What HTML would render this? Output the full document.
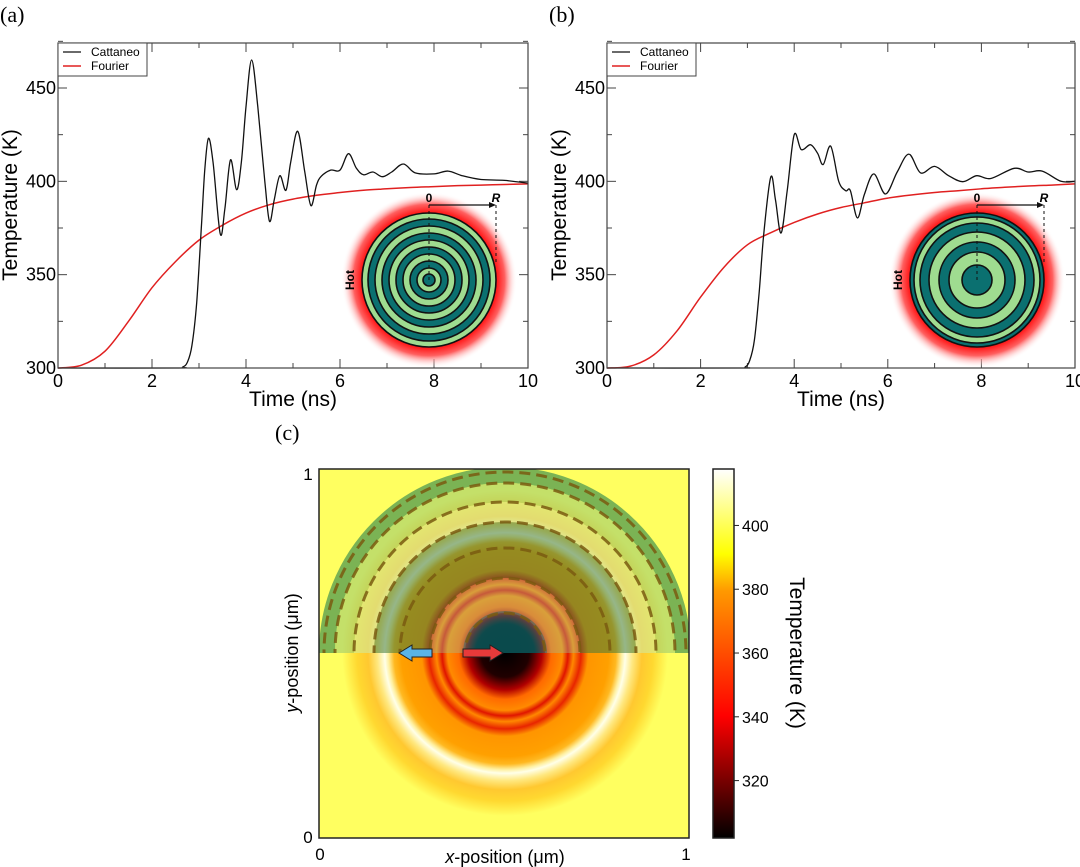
<!DOCTYPE html>
<html><head><meta charset="utf-8"><style>
body{margin:0;background:#fff}
svg{display:block;font-family:"Liberation Sans",Arial,sans-serif}
</style></head><body>
<svg id="fig" width="1080" height="867" viewBox="0 0 1080 867" xmlns="http://www.w3.org/2000/svg">
<defs>
<radialGradient id="glow" cx="0.5" cy="0.5" r="0.5">
<stop offset="0.74" stop-color="#ff0000"/><stop offset="0.86" stop-color="#ff6060"/><stop offset="1" stop-color="#ffffff" stop-opacity="0"/>
</radialGradient>
<radialGradient id="heat" gradientUnits="userSpaceOnUse" cx="505" cy="653" r="185">
<stop offset="0" stop-color="#000"/><stop offset="0.13" stop-color="#200000"/><stop offset="0.2" stop-color="#b00000"/>
<stop offset="0.25" stop-color="#ff6a00"/><stop offset="0.31" stop-color="#ff8a00"/><stop offset="0.34" stop-color="#e01500"/>
<stop offset="0.37" stop-color="#ff8800"/><stop offset="0.41" stop-color="#e82500"/><stop offset="0.45" stop-color="#ff9500"/>
<stop offset="0.56" stop-color="#ffa000"/><stop offset="0.6" stop-color="#ffb820"/>
<stop offset="0.63" stop-color="#fff0a0"/><stop offset="0.65" stop-color="#ffffe8"/><stop offset="0.69" stop-color="#ffe880"/>
<stop offset="0.74" stop-color="#ffc830"/><stop offset="0.8" stop-color="#ffd830"/><stop offset="0.88" stop-color="#ffff60"/><stop offset="1" stop-color="#ffff60"/>
</radialGradient>
<radialGradient id="core" gradientUnits="userSpaceOnUse" cx="505" cy="653" r="42">
<stop offset="0.7" stop-color="#0a4e50" stop-opacity="0.95"/><stop offset="1" stop-color="#3a6a6a" stop-opacity="0.5"/>
</radialGradient>
<linearGradient id="cbar" x1="0" y1="1" x2="0" y2="0">
<stop offset="0" stop-color="#000"/><stop offset="0.33" stop-color="#ff0000"/><stop offset="0.67" stop-color="#ff9900"/><stop offset="0.77" stop-color="#ffff00"/><stop offset="1" stop-color="#ffffff"/>
</linearGradient>
<clipPath id="topHalf"><rect x="319" y="469" width="370" height="184"/></clipPath>
<clipPath id="plotC"><rect x="319" y="469" width="370" height="369"/></clipPath>
</defs>
<g id="panelA"></g>
<g id="panelB"></g>
<g id="panelC">
  <text x="275" y="440" font-family="Liberation Serif" font-size="22">(c)</text>
  <rect x="319" y="469" width="370" height="369" fill="#ffff60"/>
  <g clip-path="url(#plotC)">
    <circle cx="505" cy="653" r="185" fill="url(#heat)"/>
    <g clip-path="url(#topHalf)" fill="none">
      <circle cx="505" cy="653" r="178" stroke="#4f9a50" stroke-opacity="0.75" stroke-width="16"/>
      <circle cx="505" cy="653" r="160.5" stroke="#9ccc70" stroke-opacity="0.6" stroke-width="19"/>
      <circle cx="505" cy="653" r="141" stroke="#c8f0b0" stroke-opacity="0.5" stroke-width="20"/>
      <circle cx="505" cy="653" r="103" stroke="#3f7a3a" stroke-opacity="0.55" stroke-width="56"/>
      <circle cx="505" cy="653" r="57.5" stroke="#a0c090" stroke-opacity="0.4" stroke-width="35"/>
      <circle cx="505" cy="653" r="42" fill="url(#core)"/>
      <g fill="none" stroke="#7a5a10" stroke-width="3" stroke-dasharray="11 6" stroke-opacity="0.85">
        <circle cx="505" cy="653" r="181"/><circle cx="505" cy="653" r="170"/><circle cx="505" cy="653" r="151"/>
        <circle cx="505" cy="653" r="131"/><circle cx="505" cy="653" r="105"/><circle cx="505" cy="653" r="75"/><circle cx="505" cy="653" r="40"/>
      </g>
    </g>
  </g>
  <path d="M399,653 L412,645 L412,649 L432,649 L432,657 L412,657 L412,661 Z" fill="#5ab4e8" stroke="#222" stroke-width="1"/>
  <path d="M503,653 L490,645 L490,649 L463,649 L463,657 L490,657 L490,661 Z" fill="#e83a3a" stroke="#222" stroke-width="1"/>
  <rect x="319" y="469" width="370" height="369" fill="none" stroke="#222" stroke-width="1.5"/>
  <text x="308" y="480" font-size="17" text-anchor="middle">1</text>
  <text x="308" y="843" font-size="17" text-anchor="middle">0</text>
  <text x="320" y="860" font-size="17" text-anchor="middle">0</text>
  <text x="686" y="860" font-size="17" text-anchor="middle">1</text>
  <text x="505" y="863" font-size="18" text-anchor="middle"><tspan font-style="italic">x</tspan>-position (μm)</text>
  <text transform="translate(298,653) rotate(-90)" font-size="18" text-anchor="middle"><tspan font-style="italic">y</tspan>-position (μm)</text>
  <rect x="713" y="469" width="21" height="369" fill="url(#cbar)" stroke="#222" stroke-width="1.5"/>
  <g id="cbTicks"></g>
  <text transform="translate(790,653) rotate(90)" font-size="21" text-anchor="middle">Temperature (K)</text>
</g>
</svg>
<script>
const NS="http://www.w3.org/2000/svg";
const timesA=[0,0.5,1,1.5,2,2.5,3,3.5,4,4.5,5,5.5,6,6.5,7,7.5,8,8.5,9,9.5,10];
const fourierA=[300,301.5,309,325,343,357,368.5,376.5,383,387.5,390.5,392.5,394,395.2,396,396.7,397.2,397.7,398,398.3,398.6];
const fourierB=[300,301,307,320,338,354,366,372.5,378,382.5,386,388.5,391,392.7,394,395,396,396.8,397.5,398,398.6];
const cattTimeA=[0,2.5,2.65,2.75,2.85,2.95,3.05,3.12,3.2,3.3,3.45,3.55,3.67,3.8,3.9,4.0,4.12,4.25,4.4,4.5,4.6,4.72,4.85,4.95,5.1,5.25,5.38,5.5,5.6,5.8,6.0,6.18,6.35,6.5,6.7,6.9,7.1,7.35,7.6,8.0,8.3,8.6,9.0,9.5,10];
const cattTempA=[300,300,300.5,303,312,335,375,405,423,410,372,385,411.5,395.5,410,440,465,440,400,378.6,390,403,395.2,410,426.8,405,387,398,402.7,406,406,414.8,407,403.5,405,402.5,405,409.3,404.5,404,405.5,403,401,400.5,399];
const cattTimeB=[0,2.8,2.95,3.05,3.15,3.25,3.35,3.5,3.6,3.72,3.85,4.0,4.15,4.35,4.5,4.62,4.78,4.95,5.1,5.2,5.35,5.5,5.7,5.95,6.2,6.45,6.7,7.0,7.3,7.6,7.9,8.2,8.7,9.0,9.3,9.7,10];
const cattTempB=[300,300,300.5,304,315,340,372,402.3,390,372.3,395,425,417,419.6,415,409,418.8,400,395,395,380.4,393,404,393.2,405,414.6,404.5,408,403,399.8,403,401.5,407,405,405.5,400,400];
const xTicks=[0,2,4,6,8,10];
const yTicks=[300,350,400,450];
const cbTicks=[320,340,360,380,400];

function el(tag,attrs,parent){const e=document.createElementNS(NS,tag);for(const k in attrs)e.setAttribute(k,attrs[k]);parent.appendChild(e);return e;}
function smooth(pts){let d="M"+pts[0][0]+","+pts[0][1];for(let i=0;i<pts.length-1;i++){const p0=pts[Math.max(0,i-1)],p1=pts[i],p2=pts[i+1],p3=pts[Math.min(pts.length-1,i+2)];
const c1=[p1[0]+(p2[0]-p0[0])/6,p1[1]+(p2[1]-p0[1])/6],c2=[p2[0]-(p3[0]-p1[0])/6,p2[1]-(p3[1]-p1[1])/6];
d+=` C${c1[0].toFixed(1)},${c1[1].toFixed(1)} ${c2[0].toFixed(1)},${c2[1].toFixed(1)} ${p2[0].toFixed(1)},${p2[1].toFixed(1)}`;}return d;}

function panel(g,x0,x1,label,ct,cv,fv,ins,rings){
  const y0=368,yTop=43;
  const X=t=>x0+(x1-x0)*t/10, Y=v=>y0-(v-300)*(y0-88)/150;
  const lab=el("text",{x:x0-58,y:22,"font-family":"Liberation Serif","font-size":22},g);lab.textContent=label;
  
  
  const ax=el("g",{stroke:"#444","stroke-width":1},g);
  for(let t=0;t<=10;t++){const len=t%2?5:9;el("line",{x1:X(t),y1:y0,x2:X(t),y2:y0-len},ax);el("line",{x1:X(t),y1:yTop,x2:X(t),y2:yTop+len},ax);}
  for(let v=300;v<=475;v+=25){const len=v%50?5:9;el("line",{x1:x0,y1:Y(v),x2:x0+len,y2:Y(v)},ax);el("line",{x1:x1,y1:Y(v),x2:x1-len,y2:Y(v)},ax);}
  xTicks.forEach(t=>{const e=el("text",{x:X(t),y:387,"font-size":18,"text-anchor":"middle"},g);e.textContent=t;
    
    });
  yTicks.forEach(v=>{const e=el("text",{x:x0-2,y:Y(v)+6,"font-size":18,"text-anchor":"end"},g);e.textContent=v;
    
    });
  const xt=el("text",{x:(x0+x1)/2,y:406,"font-size":21,"text-anchor":"middle"},g);xt.textContent="Time (ns)";
  
  
  const yt=el("text",{transform:`translate(${x0-41},205) rotate(-90)`,"font-size":21,"text-anchor":"middle"},g);yt.textContent="Temperature (K)";
  
  
  const cx=ins,cy=280,R=67;
  const inset=el("g",{},g);
  
  
  el("circle",{cx,cy,r:88,fill:"url(#glow)"},inset);
  for(let i=rings.length-1;i>=0;i--){el("circle",{cx,cy,r:rings[i],fill:i%2?"#9fdc90":"#0b7070",stroke:"#111","stroke-width":1.6},inset);}
  el("line",{x1:cx,y1:205,x2:cx,y2:cy,stroke:"#111","stroke-width":1,"stroke-dasharray":"3 3"},inset);
  el("line",{x1:cx+R,y1:205,x2:cx+R,y2:cy-18,stroke:"#111","stroke-width":1,"stroke-dasharray":"3 3"},inset);
  el("line",{x1:cx,y1:205,x2:cx+R-4,y2:205,stroke:"#111","stroke-width":1.2},inset);
  el("path",{d:`M${cx+R},205 l-7,-3 v6 z`,fill:"#111"},inset);
  const t0=el("text",{x:cx,y:202,"font-size":12,"font-weight":"bold","text-anchor":"middle"},inset);t0.textContent="0";
  const tR=el("text",{x:cx+R,y:202,"font-size":12,"font-weight":"bold","font-style":"italic","text-anchor":"middle"},inset);tR.textContent="R";
  const th=el("text",{transform:`translate(${cx-75},${cy}) rotate(-90)`,"font-size":12,"font-weight":"bold","text-anchor":"middle"},inset);th.textContent="Hot";
  const fp=el("path",{d:smooth(timesA.map((t,i)=>[X(t),Y(fv[i])])),fill:"none",stroke:"#e02020","stroke-width":1.5},g);
  
  
  const cp=el("path",{d:smooth(ct.map((t,i)=>[X(t),Y(cv[i])])),fill:"none",stroke:"#111","stroke-width":1.3},g);
  
  
  el("rect",{x:x0,y:yTop,width:x1-x0,height:y0-yTop,fill:"none",stroke:"#444","stroke-width":1.2},g);
  const lg=el("g",{},g);
  
  
  el("rect",{x:x0,y:yTop,width:89,height:33,fill:"#fff",stroke:"#444","stroke-width":1},lg);
  el("line",{x1:x0+5,y1:yTop+9,x2:x0+23,y2:yTop+9,stroke:"#111","stroke-width":1.3},lg);
  el("line",{x1:x0+5,y1:yTop+23,x2:x0+23,y2:yTop+23,stroke:"#e02020","stroke-width":1.5},lg);
  const l1=el("text",{x:x0+33,y:yTop+13,"font-size":12},lg);l1.textContent="Cattaneo";
  const l2=el("text",{x:x0+33,y:yTop+27,"font-size":12},lg);l2.textContent="Fourier";
}
panel(document.getElementById("panelA"),58,528,"(a)",cattTimeA,cattTempA,fourierA,429,[6,12,19,26,33,40,47,54,61,67]);
panel(document.getElementById("panelB"),607,1075,"(b)",cattTimeB,cattTempB,fourierB,977,[15,28,38,48,57,63,67]);
const cbG=document.getElementById("cbTicks");
const CB=v=>838-(v-302)*369/(417.7-302);
cbTicks.forEach(v=>{el("line",{x1:734,y1:CB(v),x2:739,y2:CB(v),stroke:"#222","stroke-width":1},cbG);
  const t=el("text",{x:742,y:CB(v)+6,"font-size":16},cbG);t.textContent=v;
  
  });
</script>
</body></html>
